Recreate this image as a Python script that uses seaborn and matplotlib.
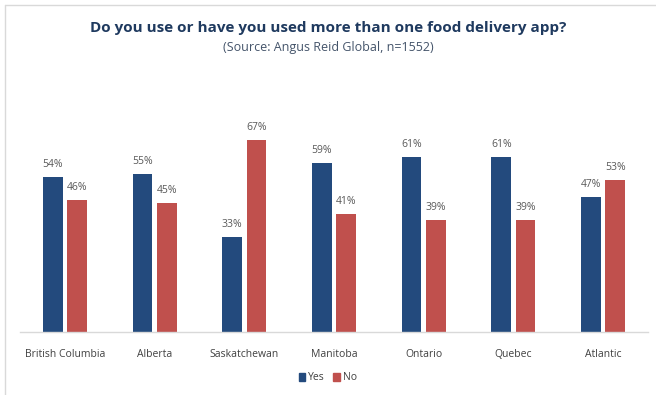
import matplotlib
matplotlib.use("Agg")
import matplotlib.pyplot as plt
import seaborn as sns
import pandas as pd
from matplotlib.lines import Line2D

regions = ["British Columbia", "Alberta", "Saskatchewan", "Manitoba", "Ontario", "Quebec", "Atlantic"]
yes_vals = [54, 55, 33, 59, 61, 61, 47]
no_vals = [46, 45, 67, 41, 39, 39, 53]
series = ["Yes", "No"]
colors = ["#234a7d", "#c0504d"]

df = pd.DataFrame({
    "Region": regions * 2,
    "Answer": ["Yes"] * len(regions) + ["No"] * len(regions),
    "Value": yes_vals + no_vals,
})

sns.set_style("white")
plt.rcParams["font.family"] = ["Open Sans", "DejaVu Sans"]

fig = plt.figure(figsize=(6.56, 3.95), dpi=100)
ax = fig.add_axes([20/656, 63/395, 628/656, 229.6/395])

sns.barplot(data=df, x="Region", y="Value", hue="Answer", hue_order=series,
            palette=colors, width=0.55, ax=ax, legend=False, saturation=1,
            edgecolor="none", linewidth=0)

# narrow bars with a small gap between the pair
for i, container in enumerate(ax.containers):
    for j, bar in enumerate(container):
        center = j + (-0.135 if i == 0 else 0.135)
        bar.set_width(0.22)
        bar.set_x(center - 0.11)

for container in ax.containers:
    ax.bar_label(container, labels=[f"{int(v)}%" for v in container.datavalues],
                 padding=5, fontsize=7.5, color="#595959")

ax.set_ylim(0, 80)
ax.set_xlim(-0.5, len(regions) - 0.5)
ax.set_xlabel("")
ax.set_ylabel("")
ax.set_yticks([])
ax.tick_params(axis="x", length=0, labelsize=7.5, labelcolor="#404040", pad=12)
for s in ["top", "right", "left"]:
    ax.spines[s].set_visible(False)
ax.spines["bottom"].set_color("#d9d9d9")
ax.spines["bottom"].set_linewidth(1)

fig.text(0.5, 1 - 28/395, "Do you use or have you used more than one food delivery app?",
         ha="center", va="center", fontsize=11, fontweight="bold", color="#1f3a5f")
fig.text(0.5, 1 - 48/395, "(Source: Angus Reid Global, n=1552)",
         ha="center", va="center", fontsize=9, color="#44546a")

handles = [plt.Rectangle((0, 0), 1, 1, color=c) for c in colors]
fig.legend(handles, series, loc="center", bbox_to_anchor=(0.5, 1 - 378/395), ncol=2,
           frameon=False, fontsize=7.5, handlelength=0.6, handleheight=0.8,
           handletextpad=0.3, columnspacing=0.8, labelcolor="#404040")

# outer frame lines (top and left)
fig.add_artist(Line2D([5/656, 1], [1 - 5/395, 1 - 5/395], color="#d9d9d9", lw=1, transform=fig.transFigure))
fig.add_artist(Line2D([5/656, 5/656], [0, 1 - 5/395], color="#d9d9d9", lw=1, transform=fig.transFigure))

fig.savefig("out.png", dpi=100)
